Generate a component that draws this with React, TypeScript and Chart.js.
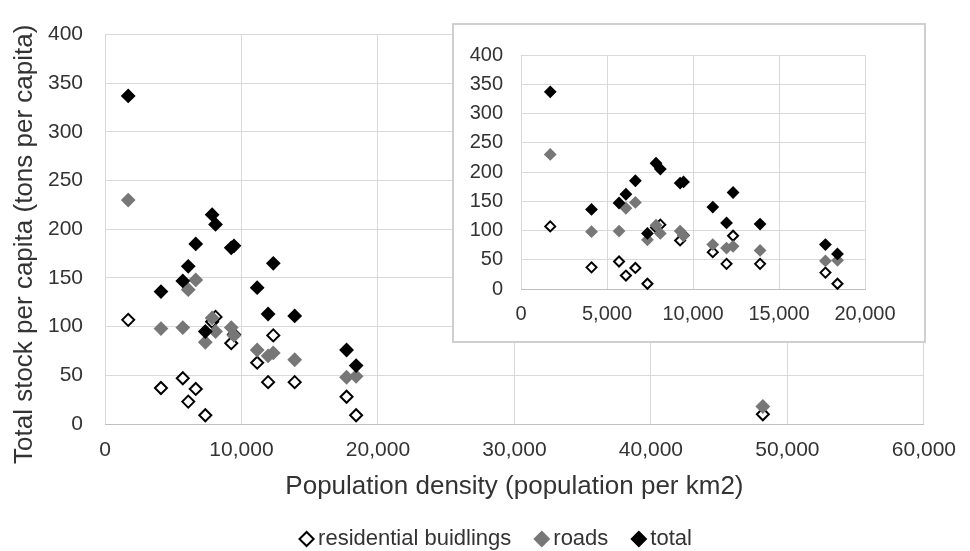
import React, { useEffect, useRef } from 'react';
import { Chart, registerables } from 'chart.js';

Chart.register(...registerables);

// ---- Data ----
const populationDensity = [1700, 4100, 5700, 6100, 6650, 7350, 7850, 8100, 9250, 9450, 11150, 11950, 12330, 13900, 17700, 18400, 48200];
const residentialBuildings = [107, 37, 47, 23, 36, 9, 105, 110, 83, 92, 63, 43, 91, 43, 28, 9, 10];
const roads = [230, 98, 99, 138, 148, 84, 109, 95, 99, 91, 76, 70, 73, 66, 48, 49, 18];
const total: (number | null)[] = [337, 136, 147, 162, 185, 95, 215, 205, 181, 183, 140, 113, 165, 111, 76, 60, null];

const seriesLabels = ['residential buidlings', 'roads', 'total'];
const xTitle = 'Population density (population per km2)';
const yTitle = 'Total stock per capita (tons per capita)';

const mainXTicks = { min: 0, max: 60000, step: 10000 };
const insetXTicks = { min: 0, max: 20000, step: 5000 };
const yTicks = { min: 0, max: 400, step: 50 };

const FONT = "'Liberation Sans', Arial, sans-serif";
const TEXT = '#333333';
const GRID = '#d9d9d9';
const AXIS = '#bfbfbf';

const toPoints = (ys: (number | null)[]) =>
  populationDensity
    .map((x, i) => ({ x, y: ys[i] }))
    .filter((p) => p.y !== null && p.y !== undefined);

const fmt = (v: any) => Number(v).toLocaleString('en-US');

function makeDatasets(radius: number) {
  return [
    {
      label: seriesLabels[0],
      data: toPoints(residentialBuildings),
      pointStyle: 'rectRot',
      pointRadius: radius,
      backgroundColor: '#ffffff',
      borderColor: '#000000',
      borderWidth: 2,
      order: 3,
      clip: false,
    },
    {
      label: seriesLabels[1],
      data: toPoints(roads),
      pointStyle: 'rectRot',
      pointRadius: radius,
      backgroundColor: '#777777',
      borderColor: '#777777',
      borderWidth: 2,
      order: 2,
      clip: false,
    },
    {
      label: seriesLabels[2],
      data: toPoints(total),
      pointStyle: 'rectRot',
      pointRadius: radius,
      backgroundColor: '#000000',
      borderColor: '#000000',
      borderWidth: 2,
      order: 1,
      clip: false,
    },
  ];
}

// moves only the y-axis title box (tick pixels are already configured)
const shiftYTitle = {
  id: 'shiftYTitle',
  afterLayout(chart: any) {
    const s = chart.scales.y;
    s.top += 15;
    s.bottom += 15;
  },
};

export default function App() {
  const mainRef = useRef<HTMLCanvasElement | null>(null);
  const insetRef = useRef<HTMLCanvasElement | null>(null);

  useEffect(() => {
    const main = new Chart(mainRef.current as HTMLCanvasElement, {
      type: 'scatter',
      data: { datasets: makeDatasets(6) as any },
      plugins: [shiftYTitle],
      options: {
        responsive: false,
        animation: false,
        events: [],
        layout: { padding: { left: 28, right: 0, top: 16, bottom: 0 } },
        plugins: {
          tooltip: { enabled: false },
          legend: {
            position: 'bottom',
            labels: {
              usePointStyle: true,
              boxWidth: 1,
              boxHeight: 10,
              padding: 30,
              color: TEXT,
              font: { family: FONT, size: 22 },
              sort: (a: any, b: any) => a.datasetIndex - b.datasetIndex,
            },
          },
        },
        scales: {
          x: {
            type: 'linear',
            min: mainXTicks.min,
            max: mainXTicks.max,
            ticks: { stepSize: mainXTicks.step, padding: 14, color: TEXT, font: { family: FONT, size: 21 }, callback: fmt },
            grid: { color: GRID, drawTicks: false },
            border: { color: AXIS },
            title: { display: true, text: xTitle, color: TEXT, font: { family: FONT, size: 26 }, padding: { top: 0, bottom: -4.6 } },
            afterFit: (s: any) => { s.height = 74; },
          },
          y: {
            type: 'linear',
            min: yTicks.min,
            max: yTicks.max,
            ticks: { stepSize: yTicks.step, padding: 22, color: TEXT, font: { family: FONT, size: 21 } },
            grid: { color: GRID, drawTicks: false },
            border: { display: false },
            title: { display: true, text: yTitle, color: TEXT, font: { family: FONT, size: 26 }, padding: { top: -18.6, bottom: 0 } },
            afterFit: (s: any) => { s.width = 77; },
          },
          yRight: {
            type: 'linear',
            position: 'right',
            display: true,
            grid: { display: false },
            ticks: { display: false },
            border: { display: false },
            afterFit: (s: any) => { s.width = 37; },
          },
        },
      } as any,
    });

    const inset = new Chart(insetRef.current as HTMLCanvasElement, {
      type: 'scatter',
      data: { datasets: makeDatasets(5) as any },
      options: {
        responsive: false,
        animation: false,
        events: [],
        layout: { padding: { left: 0, right: 59, top: 27, bottom: 0 } },
        plugins: { tooltip: { enabled: false }, legend: { display: false } },
        scales: {
          x: {
            type: 'linear',
            min: insetXTicks.min,
            max: insetXTicks.max,
            ticks: { stepSize: insetXTicks.step, padding: 13.5, color: TEXT, font: { family: FONT, size: 20 }, callback: fmt },
            grid: { color: GRID, drawTicks: false },
            border: { color: AXIS },
            afterFit: (s: any) => { s.height = 52; },
          },
          y: {
            type: 'linear',
            min: yTicks.min,
            max: yTicks.max,
            ticks: { stepSize: yTicks.step, padding: 18, color: TEXT, font: { family: FONT, size: 20 } },
            grid: { color: GRID, drawTicks: false },
            border: { display: false },
            afterFit: (s: any) => { s.width = 67; },
          },
        },
      } as any,
    });

    return () => {
      main.destroy();
      inset.destroy();
    };
  }, []);

  return (
    <div style={{ position: 'absolute', left: 0, top: 0, width: 970, height: 551, overflow: 'hidden', background: '#fff' }}>
      <canvas ref={mainRef} width={970} height={560} style={{ position: 'absolute', left: 0, top: 0, width: 970, height: 560 }} />
      <div
        style={{
          position: 'absolute',
          left: 452,
          top: 23,
          width: 474,
          height: 320,
          boxSizing: 'border-box',
          border: '2px solid #cfcfcf',
          background: '#fff',
        }}
      >
        <canvas ref={insetRef} width={470} height={316} style={{ display: 'block', width: 470, height: 316 }} />
      </div>
    </div>
  );
}
